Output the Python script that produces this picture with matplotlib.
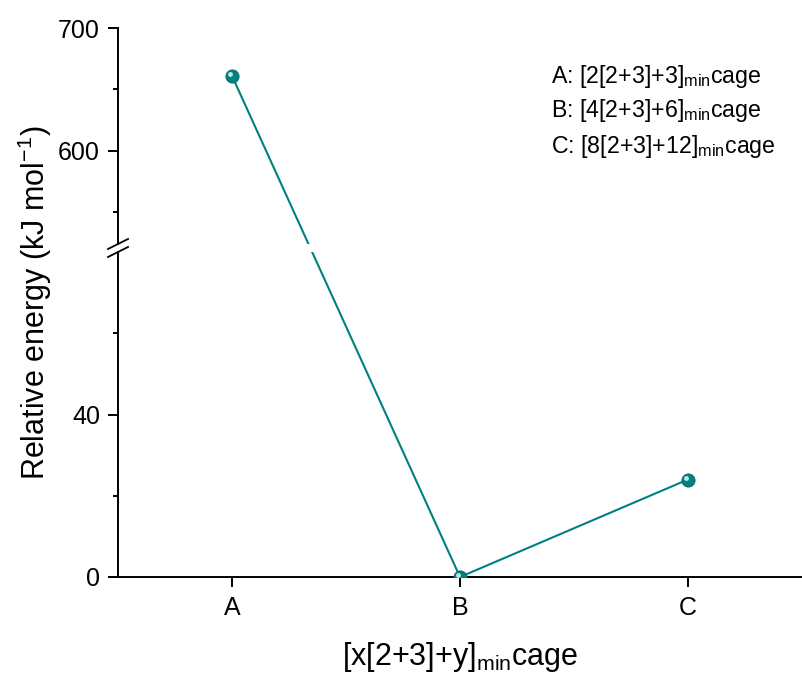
import matplotlib
matplotlib.use('Agg')
import matplotlib.pyplot as plt
from matplotlib.lines import Line2D
from matplotlib import transforms

plt.rcParams['font.family'] = ['Liberation Sans', 'DejaVu Sans']
plt.rcParams['mathtext.fontset'] = 'custom'
plt.rcParams['mathtext.rm'] = 'Liberation Sans'
plt.rcParams['mathtext.it'] = 'Liberation Sans:italic'

# data
cages = ['A', 'B', 'C']
energy = [661, 0, 24]
cage_names = ['[2[2+3]+3]', '[4[2+3]+6]', '[8[2+3]+12]']

teal = '#008080'
W, H = 802, 675

fig = plt.figure(figsize=(W / 100, H / 100), dpi=100)

def box(x0, y0, x1, y1):
    return [x0 / W, 1 - y1 / H, (x1 - x0) / W, (y1 - y0) / H]

ax_top = fig.add_axes(box(118, 28, 802, 244))
ax_bot = fig.add_axes(box(118, 252, 802, 577))

x = list(range(len(cages)))
for ax in (ax_top, ax_bot):
    ax.set_xlim(-0.5, 2.5)
    for s in ['top', 'right']:
        ax.spines[s].set_visible(False)
    ax.spines['left'].set_linewidth(1.4)
    ax.spines['bottom'].set_linewidth(1.4)
    ax.tick_params(which='major', direction='out', length=7, width=1.4, labelsize=18)
    ax.tick_params(which='minor', direction='out', length=3.6, width=1.4)
    ax.tick_params(axis='y', pad=6)

ax_top.set_ylim(524, 700)
ax_top.set_yticks([600, 700])
ax_top.set_yticks([550, 650], minor=True)
ax_top.spines['bottom'].set_visible(False)
ax_top.set_xticks([])

ax_bot.set_ylim(0, 80)
ax_bot.set_yticks([0, 40])
ax_bot.set_yticks([20, 60], minor=True)
ax_bot.set_xticks(x)
ax_bot.set_xticklabels(cages)
ax_bot.tick_params(axis='x', pad=7)

# line A -> B goes across the break, straight in screen space
pA = ax_top.transData.transform((x[0], energy[0]))
pB = ax_bot.transData.transform((x[1], energy[1]))
for ax in (ax_top, ax_bot):
    seg = ax.transData.inverted().transform([pA, pB])
    ax.plot(seg[:, 0], seg[:, 1], color=teal, lw=1.5)
ax_bot.plot(x[1:], energy[1:], color=teal, lw=1.5)

# ball markers
for ax, xs, ys in ((ax_top, x[:1], energy[:1]), (ax_bot, x[1:], energy[1:])):
    ax.plot(xs, ys, 'o', color=teal, ms=9.5, mec='#006b6b', mew=0.6, zorder=3)
    shine = transforms.offset_copy(ax.transData, fig=fig, x=-2, y=2, units='dots')
    ax.plot(xs, ys, 'o', color='#bfe6e6', ms=3.5, mew=0, transform=shine, zorder=4)

# axis break marks
for yb in (249, 257):
    fig.add_artist(Line2D([108 / W, 128 / W], [1 - yb / H, 1 - (yb - 10) / H],
                          transform=fig.transFigure, color='k', lw=1.3))

fig.text(35 / W, 1 - 303 / H, 'Relative energy (kJ mol$^{\\mathrm{-1}}$)',
         rotation=90, ha='center', va='center', fontsize=22)
fig.text(460 / W, 1 - 657 / H, '[x[2+3]+y]$_{\\mathrm{min}}$cage',
         ha='center', va='center', fontsize=22)

for i, (c, name) in enumerate(zip(cages, cage_names)):
    fig.text(551 / W, 1 - (76 + 35 * i) / H, c + ': ' + name + '$_{\\mathrm{min}}$cage',
             ha='left', va='center', fontsize=16.7)

fig.savefig('out.png', dpi=100)
